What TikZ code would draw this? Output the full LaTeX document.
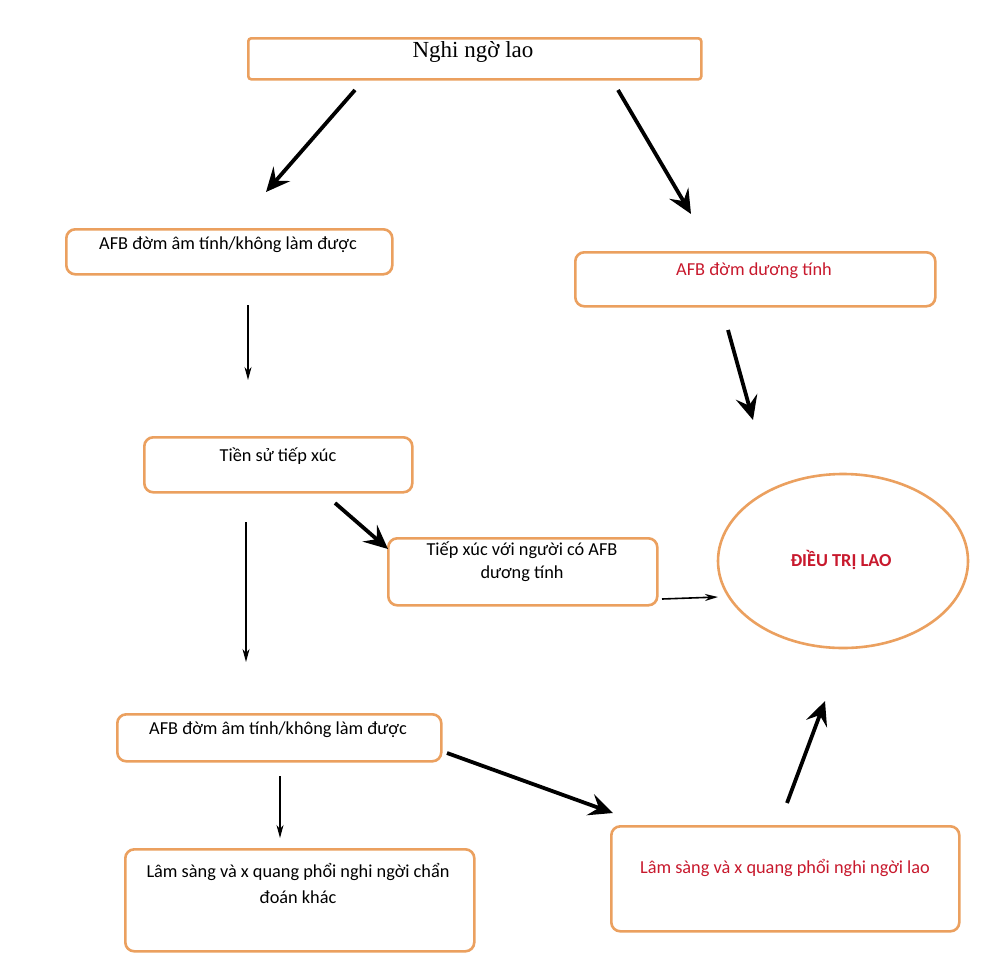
\documentclass[tikz,border=0pt]{standalone}
\usepackage{fontspec}
\setmainfont{Carlito}
\newfontfamily\serifvn{Liberation Serif}
\usetikzlibrary{arrows.meta,shapes.geometric}
\definecolor{boxorange}{RGB}{235,160,95}
\definecolor{txtred}{RGB}{200,25,45}
\tikzset{
  box/.style={draw=boxorange, line width=2.6pt, rounded corners=9pt, fill=white, anchor=north west, inner sep=0pt},
  txt/.style={anchor=base, inner sep=0pt, font=\fontsize{18.3}{22}\selectfont},
  thickarrow/.style={line width=3.8pt, -{Stealth[length=24pt,width=22pt,inset=9pt]}},
  thinarrow/.style={line width=1.2pt, -{Stealth[length=13pt,width=7pt,inset=4pt]}},
}
\begin{document}
\begin{tikzpicture}[x=1pt,y=-1pt]
\useasboundingbox[fill=white] (0,0) rectangle (1000,972);
% boxes
\node[box, rounded corners=3pt, minimum width=453pt, minimum height=41pt] (top) at (247,37) {};
\node[box, minimum width=326pt, minimum height=45pt] (afbA) at (65,228) {};
\node[box, minimum width=360pt, minimum height=54pt] (afbpos) at (574,251) {};
\node[box, minimum width=268pt, minimum height=55pt] (hist) at (143,436) {};
\node[box, minimum width=269pt, minimum height=67pt] (contact) at (387,537) {};
\node[draw=boxorange, line width=2.6pt, ellipse, minimum width=250pt, minimum height=174pt, inner sep=0pt] (treat) at (843,561) {};
\node[box, minimum width=324pt, minimum height=47pt] (afbE) at (116,713) {};
\node[box, minimum width=349pt, minimum height=102pt] (other) at (124,848) {};
\node[box, minimum width=348pt, minimum height=105pt] (tbclin) at (610,825) {};
% texts
\node[txt, font=\serifvn\fontsize{23}{26}\selectfont] (ttop) at (473,57) {Nghi ngờ lao};
\node[txt] (tafbA) at (228,249) {AFB đờm âm tính/không làm được};
\node[txt, text=txtred] (tafbpos) at (754,275) {AFB đờm dương tính};
\node[txt] (thist) at (278,461) {Tiền sử tiếp xúc};
\node[txt, align=center, font=\fontsize{18.3}{23}\selectfont] (tcontact) at (522,578) {Tiếp xúc với người có AFB\\dương tính};
\node[txt, text=txtred, font=\bfseries\fontsize{18.3}{22}\selectfont] (ttreat) at (841,566) {ĐIỀU TRỊ LAO};
\node[txt] (tafbE) at (278,734) {AFB đờm âm tính/không làm được};
\node[txt, align=center, font=\fontsize{18.3}{26}\selectfont] (tother) at (298,903) {Lâm sàng và x quang phổi nghi ngời chẩn\\đoán khác};
\node[txt, text=txtred] (ttbclin) at (785,873) {Lâm sàng và x quang phổi nghi ngời lao};
% arrow endpoints
\coordinate (a1s) at (355,90);  \coordinate (a1e) at (266,192);
\coordinate (a2s) at (618,90);  \coordinate (a2e) at (691,214);
\coordinate (a3s) at (248,305); \coordinate (a3e) at (248,380);
\coordinate (a4s) at (728,330); \coordinate (a4e) at (753,420);
\coordinate (a5s) at (335,503); \coordinate (a5e) at (388,549);
\coordinate (a6s) at (246,522); \coordinate (a6e) at (246,662);
\coordinate (a7s) at (662,599); \coordinate (a7e) at (718,597);
\coordinate (a8s) at (280,776); \coordinate (a8e) at (280,838);
\coordinate (a9s) at (447,753); \coordinate (a9e) at (613,813);
\coordinate (a10s) at (787,803); \coordinate (a10e) at (825,701);
% arrows
\draw[thickarrow] (a1s) -- (a1e);
\draw[thickarrow] (a2s) -- (a2e);
\draw[thinarrow] (a3s) -- (a3e);
\draw[thickarrow] (a4s) -- (a4e);
\draw[thickarrow] (a5s) -- (a5e);
\draw[thinarrow] (a6s) -- (a6e);
\draw[thinarrow, line width=1.6pt] (a7s) -- (a7e);
\draw[thinarrow] (a8s) -- (a8e);
\draw[thickarrow] (a9s) -- (a9e);
\draw[thickarrow] (a10s) -- (a10e);
\end{tikzpicture}
\end{document}
